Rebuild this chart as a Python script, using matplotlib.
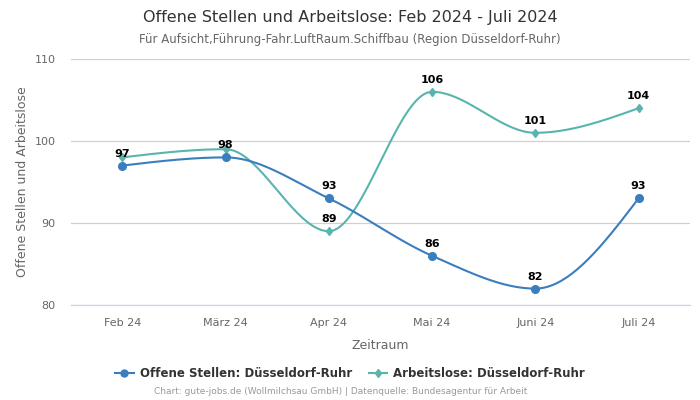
import numpy as np
import matplotlib
matplotlib.use("Agg")
import matplotlib.pyplot as plt
from matplotlib.lines import Line2D

categories = ["Feb 24", "März 24", "Apr 24", "Mai 24", "Juni 24", "Juli 24"]
offene = [97, 98, 93, 86, 82, 93]
arbeitslose = [98, 99, 89, 106, 101, 104]
arbeitslose_labels = [None, None, "89", "106", "101", "104"]
offene_labels = ["97", "98", "93", "86", "82", "93"]

name_offene = "Offene Stellen: Düsseldorf-Ruhr"
name_arb = "Arbeitslose: Düsseldorf-Ruhr"
title = "Offene Stellen und Arbeitslose: Feb 2024 - Juli 2024"
subtitle = "Für Aufsicht,Führung-Fahr.LuftRaum.Schiffbau (Region Düsseldorf-Ruhr)"
footer = "Chart: gute-jobs.de (Wollmilchsau GmbH) | Datenquelle: Bundesagentur für Arbeit"

c_off = "#3a7ebe"
c_arb = "#5ab4ae"


def monotone(x, y, n=40):
    x = np.asarray(x, float)
    y = np.asarray(y, float)
    h = np.diff(x)
    s = np.diff(y) / h
    m = np.zeros_like(y)
    for i in range(1, len(y) - 1):
        if s[i - 1] * s[i] <= 0:
            m[i] = 0
        else:
            p = (s[i - 1] * h[i] + s[i] * h[i - 1]) / (h[i - 1] + h[i])
            m[i] = (np.sign(s[i - 1]) + np.sign(s[i])) * min(abs(s[i - 1]), abs(s[i]), 0.5 * abs(p))
    m[0] = (3 * s[0] - m[1]) / 2 if len(y) > 2 else s[0]
    m[-1] = (3 * s[-1] - m[-2]) / 2 if len(y) > 2 else s[-1]
    xs, ys = [], []
    for i in range(len(x) - 1):
        t = np.linspace(0, 1, n)
        hh = h[i]
        h00 = 2 * t**3 - 3 * t**2 + 1
        h10 = t**3 - 2 * t**2 + t
        h01 = -2 * t**3 + 3 * t**2
        h11 = t**3 - t**2
        yy = h00 * y[i] + h10 * hh * m[i] + h01 * y[i + 1] + h11 * hh * m[i + 1]
        xs.append(x[i] + t * hh)
        ys.append(yy)
    return np.concatenate(xs), np.concatenate(ys)


fig = plt.figure(figsize=(7, 4), dpi=100)
ax = fig.add_axes([0.101, 0.2375, 0.885, 0.615])

x = np.arange(len(categories))
for vals, col, mk, ms in [(arbeitslose, c_arb, "d", 4.5), (offene, c_off, "o", 5.5)]:
    sx, sy = monotone(x, vals)
    ax.plot(sx, sy, color=col, lw=1.5, zorder=3)
    ax.plot(x, vals, linestyle="none", marker=mk, color=col, ms=ms, zorder=4)

for xi, v, lab in zip(x, offene, offene_labels):
    ax.annotate(lab, (xi, v), xytext=(0, 5), textcoords="offset points", ha="center", va="bottom",
                fontsize=8, fontweight="bold", color="black", zorder=5)
for xi, v, lab in zip(x, arbeitslose, arbeitslose_labels):
    if lab:
        ax.annotate(lab, (xi, v), xytext=(0, 5), textcoords="offset points", ha="center", va="bottom",
                    fontsize=8, fontweight="bold", color="black", zorder=5)

ax.set_xlim(-0.5, len(categories) - 0.5)
ax.set_ylim(80, 110)
ax.set_yticks([80, 90, 100, 110])
ax.set_xticks(x)
ax.set_xticklabels(categories)
ax.tick_params(axis="both", length=0, labelsize=8, colors="#666666")
ax.tick_params(axis="x", pad=9)
ax.tick_params(axis="y", pad=11)
ax.grid(axis="y", color="#d0d0d0", lw=0.9)
ax.set_axisbelow(True)
for sp in ["top", "right", "left"]:
    ax.spines[sp].set_visible(False)
ax.spines["bottom"].set_color("#ccd6eb")
ax.spines["bottom"].set_linewidth(0.9)

ax.set_xlabel("Zeitraum", fontsize=9, color="#666666", labelpad=8)
ax.set_ylabel("Offene Stellen und Arbeitslose", fontsize=9, color="#666666", labelpad=4)

fig.text(0.5, 0.956, title, ha="center", va="center", fontsize=11.5, color="#333333")
fig.text(0.5, 0.902, subtitle, ha="center", va="center", fontsize=8.5, color="#666666")

handles = [Line2D([], [], color=c_off, marker="o", ms=5, lw=1.5),
           Line2D([], [], color=c_arb, marker="d", ms=4.5, lw=1.5)]
leg = fig.legend(handles, [name_offene, name_arb], loc="center", bbox_to_anchor=(0.5, 0.067),
                 ncol=2, frameon=False, prop={"weight": "bold", "size": 8.5}, handlelength=1.6,
                 columnspacing=1.4, handletextpad=0.5)
for t in leg.get_texts():
    t.set_color("#333333")

fig.text(0.486, 0.02, footer, ha="center", va="center", fontsize=6.5, color="#999999")

fig.savefig("out.png", dpi=100)
